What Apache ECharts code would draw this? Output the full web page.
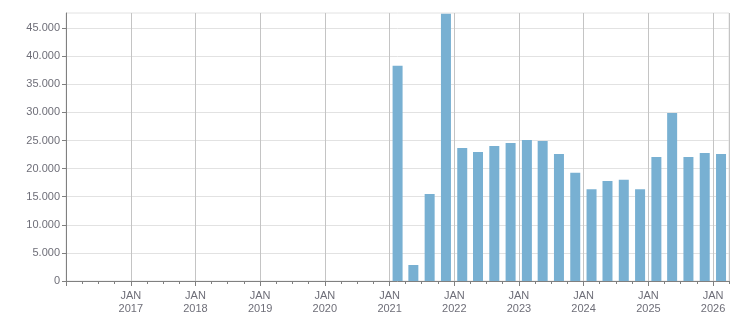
<!DOCTYPE html>
<html>
<head>
<meta charset="utf-8">
<script src="https://cdn.jsdelivr.net/npm/echarts@6/dist/echarts.min.js"></script>
<style>
html,body{margin:0;padding:0;background:#fff;}
#chart{width:751px;height:313px;}
</style>
</head>
<body>
<div id="chart"></div>
<script>
// Quarterly periods (bar placed at mid-quarter)
const quarters = ['2021-02-15','2021-05-15','2021-08-15','2021-11-15',
                  '2022-02-15','2022-05-15','2022-08-15','2022-11-15',
                  '2023-02-15','2023-05-15','2023-08-15','2023-11-15',
                  '2024-02-15','2024-05-15','2024-08-15','2024-11-15',
                  '2025-02-15','2025-05-15','2025-08-15','2025-11-15',
                  '2026-02-15'];
const values = [38300, 2850, 15500, 47550,
                23650, 22950, 24050, 24550,
                25100, 24900, 22600, 19250,
                16350, 17800, 18000, 16350,
                22050, 29900, 22050, 22800,
                22600];
const xStart = '2016-01-01';
const xEnd = '2026-04-01';
const yMax = 47700;
const yStep = 5000;
const yTicks = [0, 5000, 10000, 15000, 20000, 25000, 30000, 35000, 40000, 45000];
const monthLabel = 'JAN';

const data = quarters.map((q, i) => [q, values[i]]);
const fmtNum = v => String(v).replace(/\B(?=(\d{3})+(?!\d))/g, '.');
const DAY = 24 * 3600 * 1000;
const YEAR = 365 * DAY;
const BAR_W = 10;

const chart = echarts.init(document.getElementById('chart'), null, {renderer: 'canvas'});
chart.setOption({
  animation: false,
  grid: {left: 66, right: 22, top: 13, bottom: 32, containLabel: false, outerBoundsMode: 'none',
         show: true, borderColor: '#e2e2e2', borderWidth: 1},
  xAxis: [{
    type: 'time',
    min: xStart,
    max: xEnd,
    minInterval: YEAR,
    maxInterval: YEAR + DAY,
    axisLine: {lineStyle: {color: '#808080', width: 1}},
    axisTick: {show: true, length: 5, lineStyle: {color: '#808080'}},
    splitLine: {show: true, lineStyle: {color: '#c4c4c4', width: 1}},
    axisLabel: {
      color: '#6e6e78',
      fontFamily: 'Liberation Sans, Arial, sans-serif',
      fontSize: 11,
      lineHeight: 13,
      margin: 8,
      showMinLabel: false,
      formatter: function (v) {
        const d = new Date(v);
        if (d.getMonth() !== 0 || d.getFullYear() === 2016) return '';
        return monthLabel + '\n' + d.getFullYear();
      }
    }
  }, {
    // quarterly minor ticks
    type: 'time',
    position: 'bottom',
    min: xStart,
    max: xEnd,
    minInterval: 89 * DAY,
    maxInterval: 93 * DAY,
    axisLine: {show: false},
    axisTick: {show: true, length: 3, lineStyle: {color: '#808080'}},
    splitLine: {show: false},
    axisLabel: {show: false}
  }],
  yAxis: {
    type: 'value',
    min: 0,
    max: yMax,
    interval: yStep,
    axisLine: {show: true, lineStyle: {color: '#808080', width: 1}},
    axisTick: {show: true, length: 4, customValues: yTicks, lineStyle: {color: '#808080'}},
    splitLine: {show: true, lineStyle: {color: '#e2e2e2', width: 1}},
    axisLabel: {
      color: '#6e6e78',
      fontFamily: 'Liberation Sans, Arial, sans-serif',
      fontSize: 11,
      margin: 6,
      customValues: yTicks,
      formatter: function (v) {
        return fmtNum(v);
      }
    }
  },
  series: [{
    type: 'custom',
    xAxisIndex: 0,
    data: data,
    encode: {x: 0, y: 1},
    renderItem: function (params, api) {
      const top = api.coord([api.value(0), api.value(1)]);
      const base = api.coord([api.value(0), 0]);
      return {
        type: 'rect',
        shape: {x: top[0] - BAR_W / 2, y: top[1], width: BAR_W, height: base[1] - top[1]},
        style: {fill: '#78b0d2'}
      };
    }
  }]
});
</script>
</body>
</html>
